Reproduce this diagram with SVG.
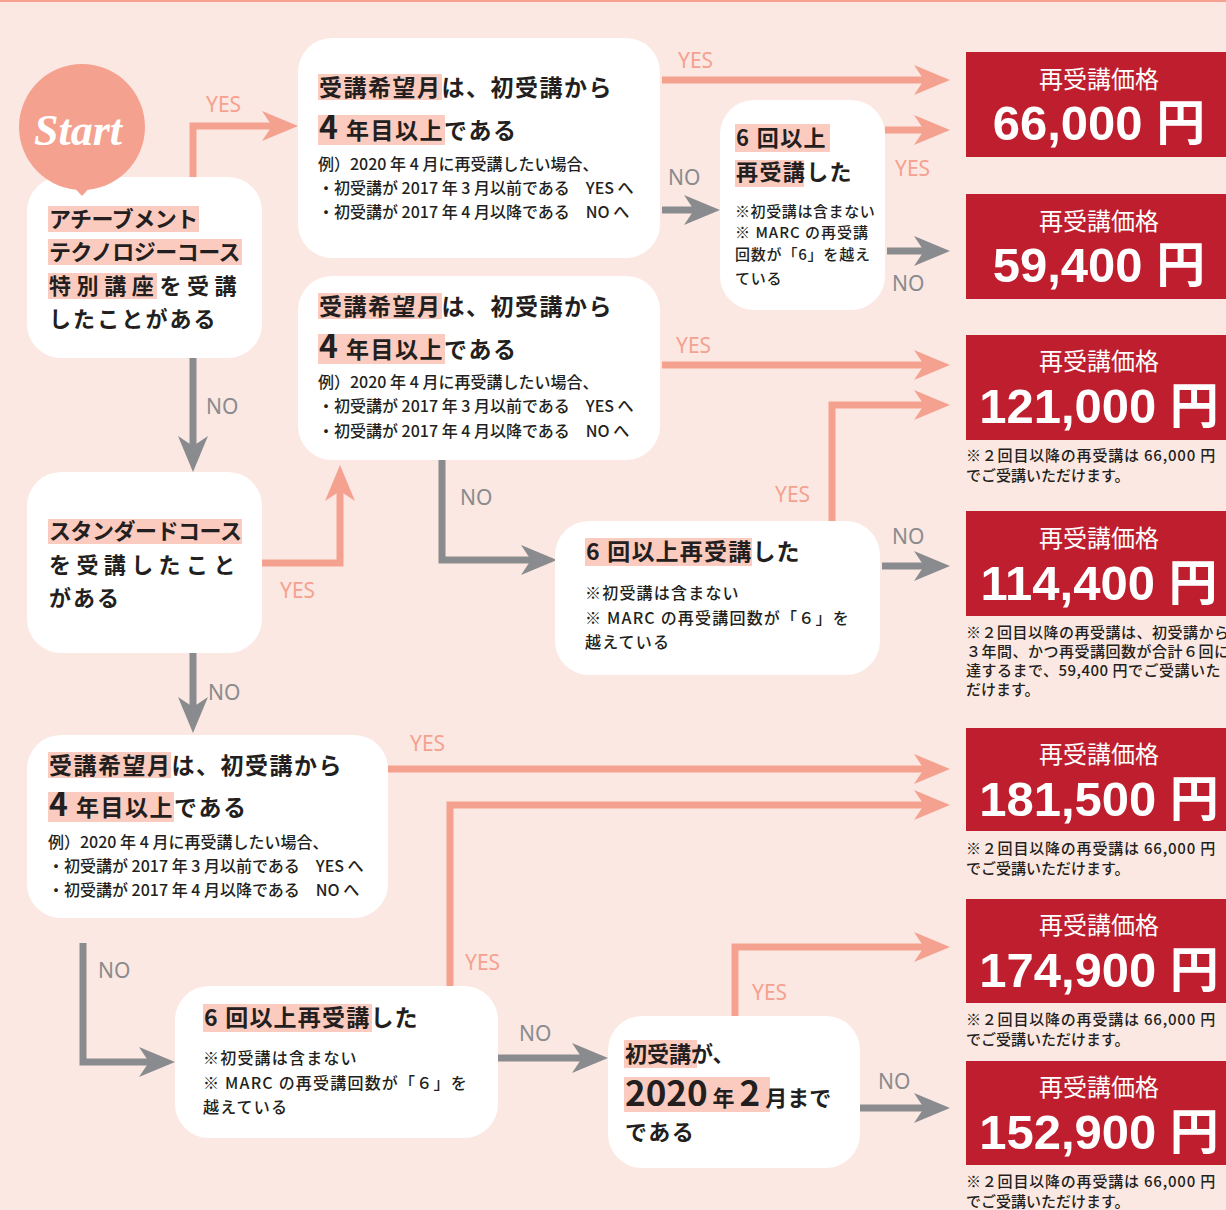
<svg xmlns="http://www.w3.org/2000/svg" width="1226" height="1210" viewBox="0 0 1226 1210">
<style>
.t{font-family:"Noto Sans CJK JP","Noto Sans",sans-serif;fill:#231f20;font-weight:700}
.s{font-size:16px;font-weight:500}
.xs{font-size:15px;font-weight:500}
.hl{fill:#fccbbf}
.box{fill:#ffffff}
.lbl{font-family:"Noto Sans","Liberation Sans",sans-serif;font-size:21px}
.yes{fill:#f5a190}
.no{fill:#8a8b8e}
.ay{stroke:#f5a190;stroke-width:7;fill:none;marker-end:url(#ms)}
.an{stroke:#8a8b8e;stroke-width:7;fill:none;marker-end:url(#mg)}
.pr{fill:#be1e2d}
.ph{font-family:"Noto Sans CJK JP",sans-serif;font-size:24px;fill:#fff;font-weight:400;text-anchor:middle}
.pv{font-family:"Liberation Sans","Noto Sans CJK JP",sans-serif;font-size:49px;fill:#fff;font-weight:700;text-anchor:middle}
.nt{font-family:"Noto Sans CJK JP",sans-serif;font-size:15px;fill:#231f20;font-weight:500}
</style>
<defs>
<marker id="ms" markerUnits="userSpaceOnUse" viewBox="-38 -17 40 34" markerWidth="40" markerHeight="34" refX="-24" refY="0" orient="auto">
<path d="M0,0 L-36,-15 L-26,0 L-36,15 Z" fill="#f5a190"/>
</marker>
<marker id="mg" markerUnits="userSpaceOnUse" viewBox="-38 -17 40 34" markerWidth="40" markerHeight="34" refX="-24" refY="0" orient="auto">
<path d="M0,0 L-36,-15 L-26,0 L-36,15 Z" fill="#8a8b8e"/>
</marker>
</defs>
<rect x="0" y="0" width="1226" height="1210" fill="#fce8e2"/>
<rect x="0" y="0" width="1226" height="2" fill="#f5a190"/>

<g id="connectors">
<path class="ay" d="M193,177 V126 H274"/>
<path class="an" d="M193,358 V448"/>
<path class="ay" d="M662,80 H926"/>
<path class="an" d="M662,210 H696"/>
<path class="ay" d="M885,130 H926"/>
<path class="an" d="M887,251 H926"/>
<path class="ay" d="M662,365 H926"/>
<path class="an" d="M442,460 V560 H533"/>
<path class="ay" d="M832,521 V405 H926"/>
<path class="an" d="M882,566 H926"/>
<path class="ay" d="M262,563 H340 V489"/>
<path class="an" d="M193,653 V709"/>
<path class="ay" d="M388,769 H926"/>
<path class="an" d="M83,943 V1062 H151"/>
<path class="ay" d="M450,986 V805 H926"/>
<path class="an" d="M498,1058 H584"/>
<path class="ay" d="M735,1016 V947 H926"/>
<path class="an" d="M860,1108 H926"/>
<text class="lbl yes" x="206" y="112">YES</text>
<text class="lbl no" x="206" y="414">NO</text>
<text class="lbl yes" x="678" y="68">YES</text>
<text class="lbl no" x="668" y="185">NO</text>
<text class="lbl yes" x="895" y="176">YES</text>
<text class="lbl no" x="892" y="291">NO</text>
<text class="lbl yes" x="676" y="353">YES</text>
<text class="lbl no" x="460" y="505">NO</text>
<text class="lbl yes" x="775" y="502">YES</text>
<text class="lbl no" x="892" y="544">NO</text>
<text class="lbl yes" x="280" y="598">YES</text>
<text class="lbl no" x="208" y="700">NO</text>
<text class="lbl yes" x="410" y="751">YES</text>
<text class="lbl no" x="98" y="978">NO</text>
<text class="lbl yes" x="465" y="970">YES</text>
<text class="lbl no" x="519" y="1041">NO</text>
<text class="lbl yes" x="752" y="1000">YES</text>
<text class="lbl no" x="878" y="1089">NO</text>
</g>

<g id="node-achievement">
<rect class="box" x="27" y="177" width="235" height="181" rx="34"/>
<rect class="hl" x="48" y="206" width="151" height="26"/>
<rect class="hl" x="48" y="239" width="194" height="26"/>
<rect class="hl" x="48" y="273" width="109" height="26"/>
<text class="t" font-size="22" x="49" y="227" letter-spacing="-0.5">アチーブメント</text>
<text class="t" font-size="22" x="49" y="260" letter-spacing="-0.5">テクノロジーコース</text>
<text class="t" font-size="22" x="49" y="294" letter-spacing="5.6">特別講座を受講</text>
<text class="t" font-size="22" x="49" y="327" letter-spacing="2.1">したことがある</text>
</g>

<g id="start">
<circle cx="82" cy="127" r="63" fill="#f5a190"/>
<path d="M71,184 L93,184 L82,196 Z" fill="#f5a190"/>
<text x="78" y="145" text-anchor="middle" font-family="Liberation Serif, serif" font-style="italic" font-weight="700" font-size="44" fill="#ffffff">Start</text>
</g>

<g id="node-4years-1">
<rect class="box" x="298" y="38" width="362" height="220" rx="34"/>
<rect class="hl" x="318" y="74" width="124" height="26"/>
<rect class="hl" x="318" y="115" width="127" height="30"/>
<text class="t" font-size="23" x="319" y="96" letter-spacing="1.5">受講希望月は、初受講から</text>
<text class="t" font-size="23" x="319" y="139" letter-spacing="1.5"><tspan font-size="32">4</tspan> 年目以上である</text>
<text class="t s" x="318" y="170">例）2020 年 4 月に再受講したい場合、</text>
<text class="t s" x="318" y="194">・初受講が 2017 年 3 月以前である　YES へ</text>
<text class="t s" x="318" y="218">・初受講が 2017 年 4 月以降である　NO へ</text>
</g>

<g id="node-6times-1">
<rect class="box" x="720" y="100" width="165" height="210" rx="34"/>
<rect class="hl" x="735" y="124" width="95" height="28"/>
<rect class="hl" x="735" y="160" width="69" height="27"/>
<text class="t" font-size="22" x="736" y="146" letter-spacing="1.4">6 回以上</text>
<text class="t" font-size="22" x="736" y="180" letter-spacing="1.4">再受講した</text>
<text class="t xs" x="735" y="217" letter-spacing="0.6">※初受講は含まない</text>
<text class="t xs" x="735" y="238" letter-spacing="1">※ MARC の再受講</text>
<text class="t xs" x="735" y="260" letter-spacing="0.8">回数が「6」を越え</text>
<text class="t xs" x="735" y="284" letter-spacing="0.8">ている</text>
</g>

<g id="node-4years-2">
<rect class="box" x="298" y="276" width="362" height="184" rx="34"/>
<rect class="hl" x="318" y="293" width="124" height="26"/>
<rect class="hl" x="318" y="334" width="127" height="30"/>
<text class="t" font-size="23" x="319" y="315" letter-spacing="1.5">受講希望月は、初受講から</text>
<text class="t" font-size="23" x="319" y="358" letter-spacing="1.5"><tspan font-size="32">4</tspan> 年目以上である</text>
<text class="t s" x="318" y="388">例）2020 年 4 月に再受講したい場合、</text>
<text class="t s" x="318" y="412">・初受講が 2017 年 3 月以前である　YES へ</text>
<text class="t s" x="318" y="437">・初受講が 2017 年 4 月以降である　NO へ</text>
</g>

<g id="node-6times-2">
<rect class="box" x="555" y="521" width="325" height="154" rx="34"/>
<rect class="hl" x="585" y="538" width="167" height="28"/>
<text class="t" font-size="23" x="586" y="560" letter-spacing="1.2">6 回以上再受講した</text>
<text class="t s" x="585" y="599" letter-spacing="1.2">※初受講は含まない</text>
<text class="t s" x="585" y="624" letter-spacing="1.2">※ MARC の再受講回数が「６」を</text>
<text class="t s" x="585" y="648" letter-spacing="1.2">越えている</text>
</g>

<g id="node-standard">
<rect class="box" x="27" y="472" width="235" height="181" rx="34"/>
<rect class="hl" x="48" y="519" width="194" height="25"/>
<text class="t" font-size="22" x="49" y="539" letter-spacing="-0.5">スタンダードコース</text>
<text class="t" font-size="22" x="49" y="573" letter-spacing="5.4">を受講したこと</text>
<text class="t" font-size="22" x="49" y="606" letter-spacing="2">がある</text>
</g>

<g id="node-4years-3">
<rect class="box" x="27" y="735" width="361" height="183" rx="34"/>
<rect class="hl" x="48" y="752" width="123" height="26"/>
<rect class="hl" x="48" y="792" width="126" height="30"/>
<text class="t" font-size="23" x="49" y="774" letter-spacing="1.5">受講希望月は、初受講から</text>
<text class="t" font-size="23" x="49" y="816" letter-spacing="1.5"><tspan font-size="32">4</tspan> 年目以上である</text>
<text class="t s" x="48" y="848">例）2020 年 4 月に再受講したい場合、</text>
<text class="t s" x="48" y="872">・初受講が 2017 年 3 月以前である　YES へ</text>
<text class="t s" x="48" y="896">・初受講が 2017 年 4 月以降である　NO へ</text>
</g>

<g id="node-6times-3">
<rect class="box" x="175" y="986" width="323" height="152" rx="34"/>
<rect class="hl" x="203" y="1004" width="169" height="28"/>
<text class="t" font-size="23" x="204" y="1026" letter-spacing="1.2">6 回以上再受講した</text>
<text class="t s" x="203" y="1064" letter-spacing="1.2">※初受講は含まない</text>
<text class="t s" x="203" y="1089" letter-spacing="1.2">※ MARC の再受講回数が「６」を</text>
<text class="t s" x="203" y="1113" letter-spacing="1.2">越えている</text>
</g>

<g id="node-first-2020">
<rect class="box" x="608" y="1016" width="252" height="152" rx="34"/>
<rect class="hl" x="624" y="1077" width="146" height="35"/>
<rect class="hl" x="624" y="1040" width="73" height="28"/>
<text class="t" font-size="22" x="625" y="1062">初受講が、</text>
<text class="t" font-size="22" x="625" y="1106"><tspan font-size="35">2020</tspan> 年 <tspan font-size="35">2</tspan> 月まで</text>
<text class="t" font-size="22" x="625" y="1140" letter-spacing="1.5">である</text>
</g>

<g id="price-66000">
<rect class="pr" x="966" y="52" width="260" height="105"/>
<text class="ph" x="1099" y="88">再受講価格</text>
<text class="pv" x="1099" y="140">66,000 円</text>
</g>
<g id="price-59400">
<rect class="pr" x="966" y="194" width="260" height="105"/>
<text class="ph" x="1099" y="230">再受講価格</text>
<text class="pv" x="1099" y="282">59,400 円</text>
</g>
<g id="price-121000">
<rect class="pr" x="966" y="335" width="260" height="105"/>
<text class="ph" x="1099" y="370">再受講価格</text>
<text class="pv" x="1099" y="423">121,000 円</text>
<text class="nt" x="966" y="461" letter-spacing="0.8">※２回目以降の再受講は 66,000 円</text>
<text class="nt" x="966" y="481">でご受講いただけます。</text>
</g>
<g id="price-114400">
<rect class="pr" x="966" y="511" width="260" height="105"/>
<text class="ph" x="1099" y="547">再受講価格</text>
<text class="pv" x="1099" y="600">114,400 円</text>
<text class="nt" x="966" y="638" letter-spacing="0.5">※２回目以降の再受講は、初受講から</text>
<text class="nt" x="966" y="657" letter-spacing="0.5">３年間、かつ再受講回数が合計６回に</text>
<text class="nt" x="966" y="676" letter-spacing="0.5">達するまで、59,400 円でご受講いた</text>
<text class="nt" x="966" y="695">だけます。</text>
</g>
<g id="price-181500">
<rect class="pr" x="966" y="728" width="260" height="103"/>
<text class="ph" x="1099" y="763">再受講価格</text>
<text class="pv" x="1099" y="816">181,500 円</text>
<text class="nt" x="966" y="854" letter-spacing="0.8">※２回目以降の再受講は 66,000 円</text>
<text class="nt" x="966" y="874">でご受講いただけます。</text>
</g>
<g id="price-174900">
<rect class="pr" x="966" y="899" width="260" height="104"/>
<text class="ph" x="1099" y="934">再受講価格</text>
<text class="pv" x="1099" y="987">174,900 円</text>
<text class="nt" x="966" y="1025" letter-spacing="0.8">※２回目以降の再受講は 66,000 円</text>
<text class="nt" x="966" y="1045">でご受講いただけます。</text>
</g>
<g id="price-152900">
<rect class="pr" x="966" y="1061" width="260" height="104"/>
<text class="ph" x="1099" y="1096">再受講価格</text>
<text class="pv" x="1099" y="1149">152,900 円</text>
<text class="nt" x="966" y="1187" letter-spacing="0.8">※２回目以降の再受講は 66,000 円</text>
<text class="nt" x="966" y="1207">でご受講いただけます。</text>
</g>
</svg>
